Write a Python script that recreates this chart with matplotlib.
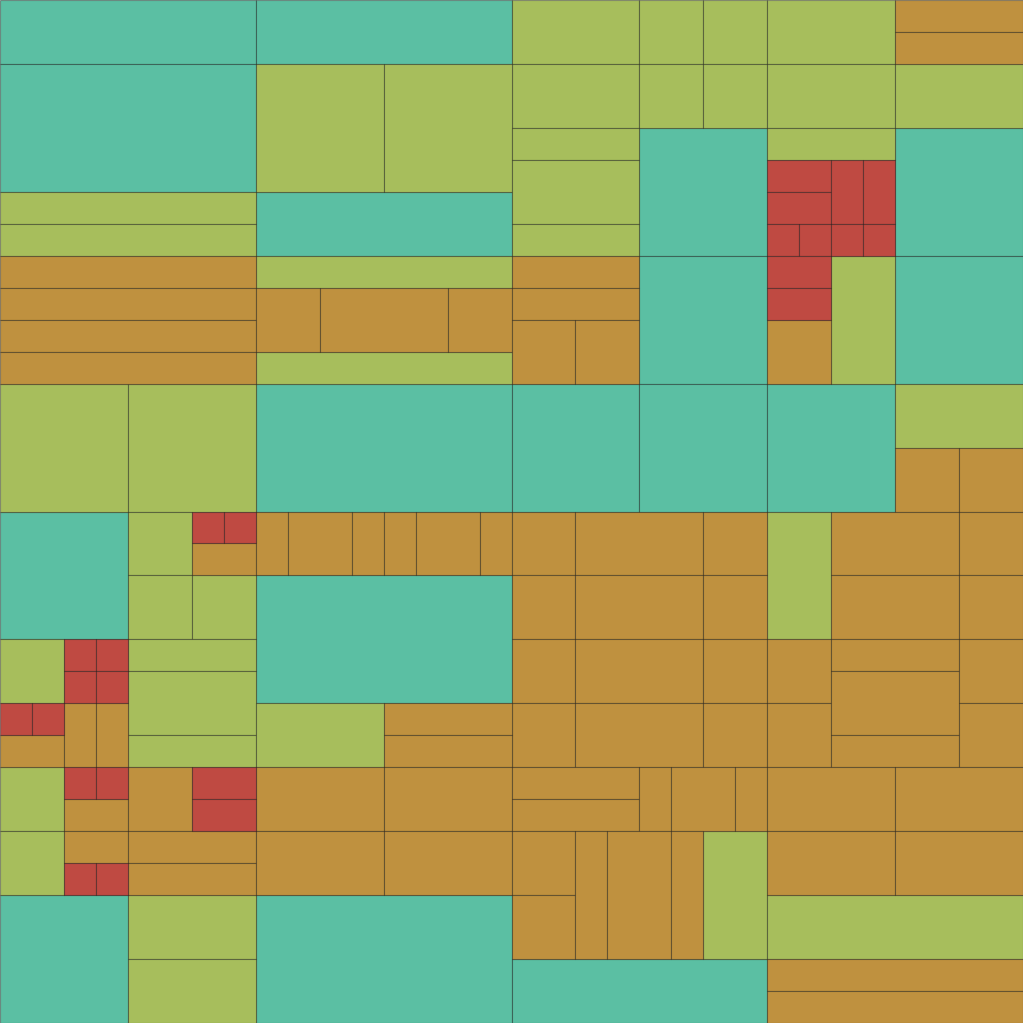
import matplotlib
matplotlib.use("Agg")
import matplotlib.pyplot as plt

# Cells of the tiled map, in grid units (x0, y0 from top-left, width, height)
teal_x = [0, 8, 0, 8, 20, 20, 28, 28, 8, 16, 20, 24, 0, 8, 0, 8, 16]
teal_y = [0, 0, 2, 6, 4, 8, 4, 8, 12, 12, 12, 12, 16, 18, 28, 28, 30]
teal_w = [8, 8, 8, 8, 4, 4, 4, 4, 8, 4, 4, 4, 4, 8, 4, 8, 8]
teal_h = [2, 2, 4, 2, 4, 4, 4, 4, 4, 4, 4, 4, 4, 4, 4, 4, 2]

green_x = [16, 20, 22, 24, 16, 20, 22, 24, 28, 8, 12, 0, 0, 16, 16, 16, 24, 26, 8, 8,
           0, 4, 28, 4, 4, 6, 24, 0, 4, 4, 4, 8, 0, 0, 22, 24, 4, 4]
green_y = [0, 0, 0, 0, 2, 2, 2, 2, 2, 2, 2, 6, 7, 4, 5, 7, 4, 8, 8, 11,
           12, 12, 12, 16, 18, 18, 16, 20, 20, 21, 23, 22, 24, 26, 26, 28, 28, 30]
green_w = [4, 2, 2, 4, 4, 2, 2, 4, 4, 4, 4, 8, 8, 4, 4, 4, 4, 2, 8, 8,
           4, 4, 4, 2, 2, 2, 2, 2, 4, 4, 4, 4, 2, 2, 2, 8, 4, 4]
green_h = [2, 2, 2, 2, 2, 2, 2, 2, 2, 4, 4, 1, 1, 1, 2, 1, 1, 4, 1, 1,
           4, 4, 2, 2, 2, 2, 4, 2, 1, 2, 1, 2, 2, 2, 4, 2, 2, 2]

orange_x = [28, 28, 0, 0, 0, 0, 8, 10, 14, 16, 16, 16, 18, 24, 28, 30, 6,
            8, 9, 11, 12, 13, 15,
            16, 18, 22, 16, 18, 22, 16, 18, 22, 16, 18, 22,
            24, 24, 26, 30, 26, 30, 26, 26, 26, 30, 30,
            12, 12, 0, 2, 3, 2, 2, 4, 4, 4,
            8, 12, 8, 12, 16, 16, 20, 21, 23,
            24, 28, 24, 28, 16, 16, 18, 19, 21, 24, 24]
orange_y = [0, 1, 8, 9, 10, 11, 9, 9, 9, 8, 9, 10, 10, 10, 14, 14, 17,
            16, 16, 16, 16, 16, 16,
            16, 16, 16, 18, 18, 18, 20, 20, 20, 22, 22, 22,
            20, 22, 16, 16, 18, 18, 20, 21, 23, 20, 22,
            22, 23, 23, 22, 22, 25, 26, 24, 26, 27,
            24, 24, 26, 26, 24, 25, 24, 24, 24,
            24, 24, 26, 26, 26, 28, 26, 26, 26, 30, 31]
orange_w = [4, 4, 8, 8, 8, 8, 2, 4, 2, 4, 4, 2, 2, 2, 2, 2, 2,
            1, 2, 1, 1, 2, 1,
            2, 4, 2, 2, 4, 2, 2, 4, 2, 2, 4, 2,
            2, 2, 4, 2, 4, 2, 4, 4, 4, 2, 2,
            4, 4, 2, 1, 1, 2, 2, 2, 4, 4,
            4, 4, 4, 4, 4, 4, 1, 2, 1,
            4, 4, 4, 4, 2, 2, 1, 2, 1, 8, 8]
orange_h = [1, 1, 1, 1, 1, 1, 2, 2, 2, 1, 1, 2, 2, 2, 2, 2, 1,
            2, 2, 2, 2, 2, 2,
            2, 2, 2, 2, 2, 2, 2, 2, 2, 2, 2, 2,
            2, 2, 2, 2, 2, 2, 1, 2, 1, 2, 2,
            1, 1, 1, 2, 2, 1, 1, 2, 1, 1,
            2, 2, 2, 2, 1, 1, 2, 2, 2,
            2, 2, 2, 2, 2, 2, 4, 4, 4, 1, 1]

red_x = [24, 24, 26, 27, 24, 25, 26, 27, 24, 24, 6, 7, 2, 3, 2, 3, 0, 1, 2, 3, 6, 6, 2, 3]
red_y = [5, 6, 5, 5, 7, 7, 7, 7, 8, 9, 16, 16, 20, 20, 21, 21, 22, 22, 24, 24, 24, 25, 27, 27]
red_w = [2, 2, 1, 1, 1, 1, 1, 1, 2, 2, 1, 1, 1, 1, 1, 1, 1, 1, 1, 1, 2, 2, 1, 1]
red_h = [1, 1, 2, 2, 1, 1, 1, 1, 1, 1, 1, 1, 1, 1, 1, 1, 1, 1, 1, 1, 1, 1, 1, 1]

groups = [
    (teal_x, teal_y, teal_w, teal_h, "#5bbfa3"),
    (green_x, green_y, green_w, green_h, "#a7be5c"),
    (orange_x, orange_y, orange_w, orange_h, "#bf913f"),
    (red_x, red_y, red_w, red_h, "#bf4a42"),
]

fig = plt.figure(figsize=(10.23, 10.23), dpi=100)
ax = fig.add_axes([0, 0, 1, 1])
for xs, ys, ws, hs, col in groups:
    ax.bar(xs, hs, width=ws, bottom=ys, align="edge", color=col,
           edgecolor=(0.0, 0.0, 0.0, 0.38), linewidth=0.8)
ax.set_xlim(0, 32)
ax.set_ylim(32, 0)
ax.axis("off")
fig.savefig("out.png", dpi=100)
